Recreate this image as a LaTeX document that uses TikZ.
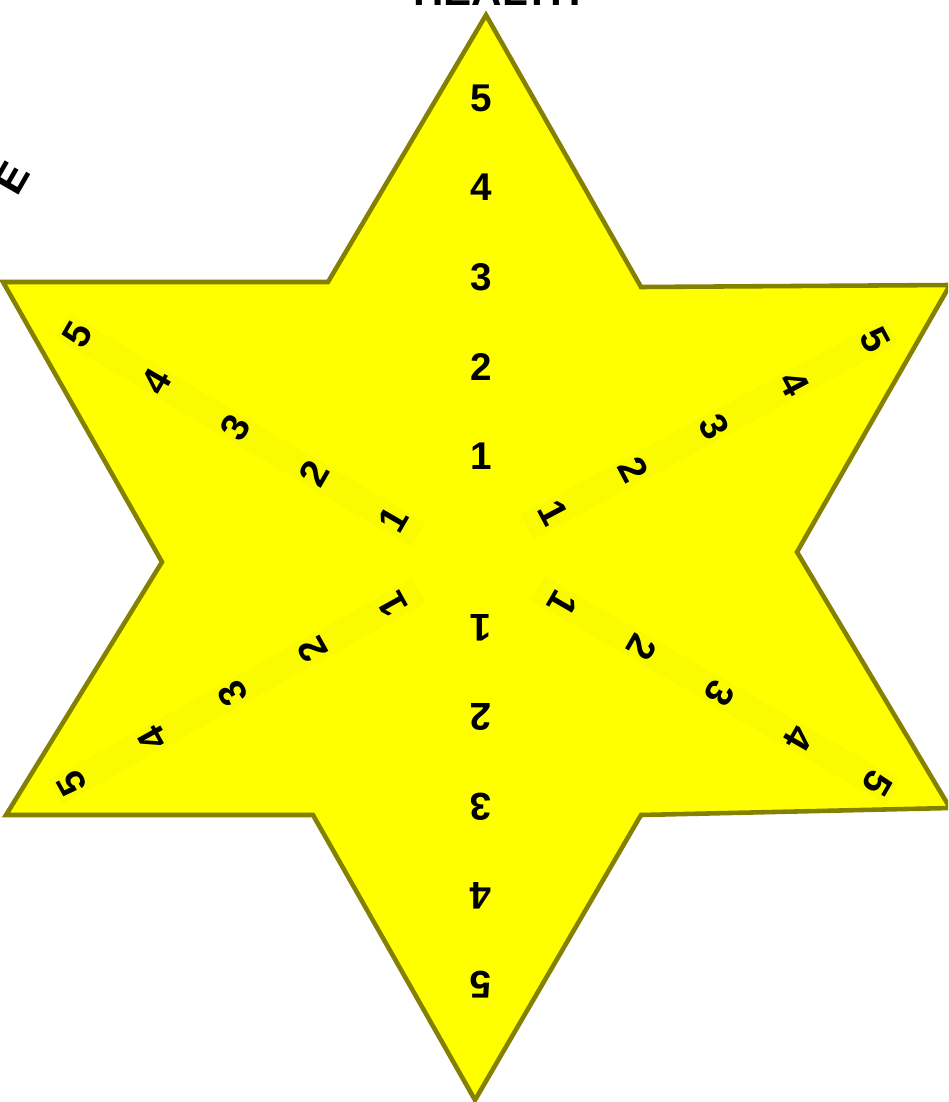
\documentclass[tikz,border=0pt]{standalone}
\usepackage{fontspec}
\setmainfont{Liberation Sans}
\usetikzlibrary{calc}

\definecolor{staryellow}{RGB}{255,255,0}
\definecolor{staredge}{RGB}{132,128,0}
\definecolor{bandyellow}{RGB}{250,250,0}

\begin{document}
\begin{tikzpicture}[
  x=0.02cm, y=-0.02cm,
  star/.style={draw=staredge, fill=staryellow, line width=2.6pt,
              line join=miter},
  band/.style={draw=bandyellow, line width=0.55cm},
  num/.style={font=\fontsize{22}{26}\selectfont\bfseries, inner sep=0pt},
  edgelbl/.style={font=\fontsize{24}{28}\selectfont\bfseries, inner sep=0pt},
]
\useasboundingbox (0,0) rectangle (948,1102);

\begin{scope}
\clip (0,0) rectangle (948,1102);

% labels cut off by the frame
\node[edgelbl] (title) at (497,-9) {HEALTH};
\node[edgelbl, rotate=60] (side) at (12,178) {E};

% star
\draw[star] (486,15) -- (641,287) -- (950,285) -- (797,552)
  -- (950,808) -- (641,815) -- (475,1100) -- (313,815)
  -- (6,815) -- (162,562) -- (3,282) -- (328,282) -- cycle;

% faint strips under the slanted arms
\foreach \ax/\ay/\bx/\by in {393/520/78/335, 553/513/875/340,
                             393/605/72/783, 563/603/877/783}
  \draw[band] ($(\ax,\ay)!-0.08!(\bx,\by)$) -- ($(\ax,\ay)!1.05!(\bx,\by)$);

% numbers along each arm
\foreach \arm/\ax/\ay/\bx/\by/\rot in {
    top/481/456/481/98/0, bot/481/628/481/985/180,
    ul/393/520/78/335/60, ur/553/513/875/340/-62,
    ll/393/605/72/783/119, lr/563/603/877/783/-120}
  \foreach \i/\pos in {1/0, 2/0.25, 3/0.5, 4/0.75, 5/1}
    \node[num, rotate=\rot] (\arm\i) at ($(\ax,\ay)!\pos!(\bx,\by)$) {\i};
\end{scope}

\end{tikzpicture}
\end{document}
